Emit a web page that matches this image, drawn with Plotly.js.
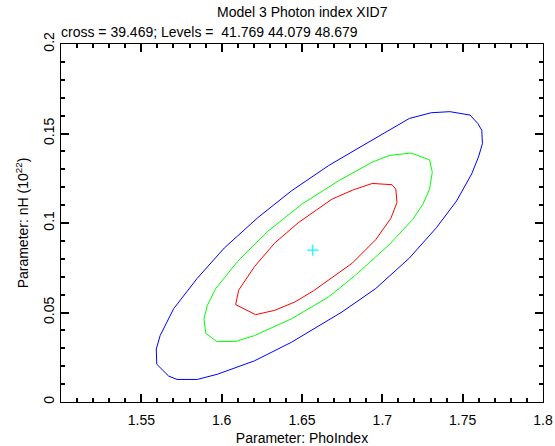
<!DOCTYPE html>
<html>
<head>
<meta charset="utf-8">
<script src="https://cdn.plot.ly/plotly-3.0.1.min.js"></script>
<style>html,body{margin:0;padding:0;background:#fff;}#chart{width:555px;height:446px;}</style>
</head>
<body>
<div id="chart"></div>
<script>
// Contour levels (delta chi-square levels of the fit statistic)
const titleMain = "Model 3 Photon index XID7";
const crossValue = "39.469";
const levels = ["41.769", "44.079", "48.679"];

// Best fit point
const bestX = [1.6567];
const bestY = [0.0849];

// Outer contour (blue, 48.679)
const blueX = [1.7304,1.7420,1.7546,1.7594,1.7619,1.7623,1.7598,1.7556,1.7462,1.7336,1.7168,1.6959,1.6749,1.6435,1.6204,1.5973,1.5848,1.5722,1.5670,1.5596,1.5593,1.5617,1.5701,1.5848,1.6016,1.6225,1.6435,1.6666,1.6917,1.7168,1.7304];
const blueY = [0.1616,0.1622,0.1603,0.1556,0.1518,0.1443,0.1368,0.1274,0.1123,0.0973,0.0804,0.0634,0.0503,0.0334,0.0230,0.0155,0.0126,0.0126,0.0145,0.0211,0.0296,0.0371,0.0521,0.0691,0.0860,0.1030,0.1180,0.1321,0.1453,0.1584,0.1616];

// Middle contour (green, 44.079)
const greenX = [1.7178,1.7294,1.7311,1.7294,1.7252,1.7189,1.7043,1.6833,1.6666,1.6435,1.6204,1.6089,1.5970,1.5901,1.5890,1.5911,1.5963,1.6099,1.6288,1.6497,1.6728,1.6937,1.7043,1.7178];
const greenY = [0.1391,0.1353,0.1283,0.1189,0.1104,0.1020,0.0879,0.0709,0.0587,0.0465,0.0371,0.0339,0.0337,0.0384,0.0465,0.0540,0.0634,0.0785,0.0954,0.1104,0.1236,0.1340,0.1377,0.1391];

// Inner contour (red, 41.769)
const redX = [1.6937,1.7060,1.7084,1.7091,1.7053,1.6959,1.6812,1.6666,1.6571,1.6456,1.6330,1.6211,1.6087,1.6106,1.6204,1.6330,1.6476,1.6686,1.6816,1.6937];
const redY = [0.1221,0.1214,0.1189,0.1114,0.1026,0.0907,0.0775,0.0682,0.0621,0.0559,0.0512,0.0488,0.0544,0.0625,0.0756,0.0888,0.1001,0.1133,0.1184,0.1221];

const xTitle = "Parameter: PhoIndex";
const yTitle = "Parameter: nH (10<sup>22</sup>)";

const font = "Liberation Sans, Arial, Helvetica, sans-serif";
const tickCol = "#000000";

const traces = [
  {x: blueX, y: blueY, mode: "lines", line: {color: "#0000ff", width: 1}, hoverinfo: "skip"},
  {x: greenX, y: greenY, mode: "lines", line: {color: "#00ff00", width: 1}, hoverinfo: "skip"},
  {x: redX, y: redY, mode: "lines", line: {color: "#ff0000", width: 1}, hoverinfo: "skip"},
  {x: bestX, y: bestY, mode: "markers", marker: {symbol: "cross-thin", size: 8, line: {color: "#00ffff", width: 1.2}}, hoverinfo: "skip"}
];

function axisCommon() {
  return {
    showgrid: false, zeroline: false, showline: true, linecolor: "#000", linewidth: 1,
    mirror: "ticks", ticks: "inside", ticklen: 8, tickcolor: tickCol, tickwidth: 2,
    dtick: 0.05,
    tickfont: {family: font, size: 14, color: "#000"},
    minor: {ticks: "inside", ticklen: 4, dtick: 0.01, tickcolor: tickCol, tickwidth: 2, showgrid: false}
  };
}

const layout = {
  width: 555, height: 446,
  margin: {l: 61, r: 12, t: 44, b: 44},
  paper_bgcolor: "#fff", plot_bgcolor: "#fff",
  showlegend: false,
  font: {family: font, size: 14, color: "#000"},
  xaxis: Object.assign(axisCommon(), {
    range: [1.5, 1.8], tick0: 1.5,
    labelalias: {"1.5": " "},
    ticklabelstandoff: 5,
    title: {text: xTitle, font: {family: font, size: 14, color: "#000"}, standoff: 6}
  }),
  yaxis: Object.assign(axisCommon(), {
    range: [0, 0.2], tick0: 0, tickangle: -90,
    title: {text: yTitle, font: {family: font, size: 14, color: "#000"}, standoff: 9}
  }),
  annotations: [
    {text: titleMain, xref: "paper", yref: "paper", x: 0.5, y: 1, xanchor: "center", yanchor: "bottom", yshift: 22, showarrow: false, font: {family: font, size: 14, color: "#000"}},
    {text: "cross = " + crossValue + "; Levels =  " + levels.join(" "), xref: "paper", yref: "paper", x: 0, y: 1, xanchor: "left", yanchor: "bottom", yshift: 2, xshift: -2, showarrow: false, font: {family: font, size: 14, color: "#000"}}
  ]
};

Plotly.newPlot("chart", traces, layout, {displayModeBar: false});
</script>
</body>
</html>
